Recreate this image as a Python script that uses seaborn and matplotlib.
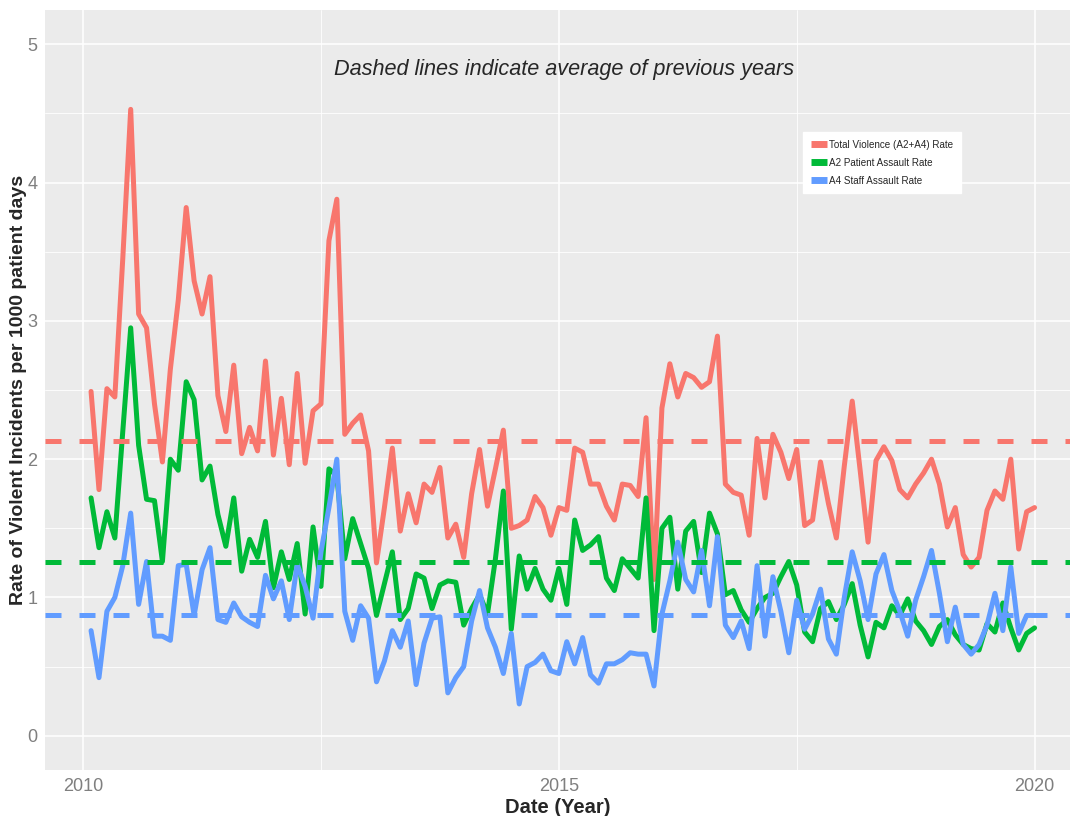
import numpy as np
import pandas as pd
import matplotlib
matplotlib.use('Agg')
import matplotlib.pyplot as plt
import seaborn as sns

# monthly rates, Feb 2010 .. Jan 2020 (per 1000 patient days)
total_rate = [2.49, 1.78, 2.51, 2.45, 3.45, 4.53, 3.05, 2.95, 2.40, 1.98,
              2.65, 3.15, 3.82, 3.29, 3.05, 3.32, 2.46, 2.20, 2.68, 2.04,
              2.23, 2.06, 2.71, 2.03, 2.44, 1.96, 2.62, 1.97, 2.35, 2.40,
              3.58, 3.88, 2.18, 2.26, 2.32, 2.06, 1.25, 1.65, 2.08, 1.48,
              1.75, 1.54, 1.82, 1.76, 1.94, 1.43, 1.53, 1.29, 1.75, 2.07,
              1.66, 1.93, 2.21, 1.50, 1.52, 1.56, 1.73, 1.65, 1.45, 1.65,
              1.63, 2.08, 2.05, 1.82, 1.82, 1.66, 1.56, 1.82, 1.81, 1.73,
              2.30, 1.13, 2.37, 2.69, 2.45, 2.62, 2.59, 2.52, 2.56, 2.89,
              1.82, 1.76, 1.74, 1.45, 2.15, 1.72, 2.18, 2.05, 1.86, 2.07,
              1.52, 1.56, 1.98, 1.68, 1.43, 1.95, 2.42, 1.92, 1.40, 1.99,
              2.09, 1.99, 1.78, 1.72, 1.82, 1.90, 2.00, 1.82, 1.51, 1.65,
              1.31, 1.22, 1.29, 1.63, 1.77, 1.71, 2.00, 1.35, 1.62, 1.65]
patient_rate = [1.72, 1.36, 1.62, 1.43, 2.20, 2.95, 2.10, 1.71, 1.70, 1.26,
                2.00, 1.92, 2.56, 2.43, 1.85, 1.95, 1.60, 1.37, 1.72, 1.19,
                1.42, 1.29, 1.55, 1.07, 1.33, 1.13, 1.39, 0.88, 1.51, 1.08,
                1.93, 1.88, 1.28, 1.57, 1.39, 1.21, 0.87, 1.10, 1.33, 0.84,
                0.92, 1.17, 1.14, 0.92, 1.09, 1.12, 1.11, 0.80, 0.92, 1.02,
                0.88, 1.28, 1.77, 0.77, 1.30, 1.06, 1.21, 1.06, 0.98, 1.21,
                0.95, 1.56, 1.34, 1.38, 1.44, 1.14, 1.05, 1.28, 1.21, 1.14,
                1.72, 0.76, 1.50, 1.58, 1.06, 1.48, 1.55, 1.18, 1.61, 1.46,
                1.02, 1.05, 0.91, 0.82, 0.92, 1.00, 1.03, 1.15, 1.26, 1.09,
                0.75, 0.68, 0.92, 0.97, 0.84, 0.95, 1.10, 0.80, 0.57, 0.82,
                0.78, 0.94, 0.87, 0.99, 0.83, 0.76, 0.66, 0.79, 0.84, 0.73,
                0.66, 0.63, 0.62, 0.81, 0.75, 0.96, 0.78, 0.62, 0.74, 0.78]
staff_rate = [0.76, 0.42, 0.90, 1.00, 1.23, 1.61, 0.95, 1.26, 0.72, 0.72,
              0.69, 1.23, 1.24, 0.87, 1.20, 1.36, 0.84, 0.82, 0.96, 0.86,
              0.82, 0.79, 1.16, 0.99, 1.12, 0.84, 1.24, 1.08, 0.85, 1.33,
              1.65, 2.00, 0.90, 0.69, 0.94, 0.85, 0.39, 0.54, 0.76, 0.64,
              0.83, 0.37, 0.67, 0.85, 0.86, 0.31, 0.42, 0.50, 0.83, 1.05,
              0.78, 0.64, 0.45, 0.74, 0.23, 0.50, 0.53, 0.59, 0.47, 0.45,
              0.68, 0.52, 0.71, 0.44, 0.38, 0.52, 0.52, 0.55, 0.60, 0.59,
              0.59, 0.36, 0.88, 1.12, 1.40, 1.13, 1.04, 1.34, 0.94, 1.44,
              0.80, 0.71, 0.83, 0.63, 1.23, 0.72, 1.15, 0.90, 0.60, 0.98,
              0.77, 0.88, 1.06, 0.70, 0.59, 1.00, 1.33, 1.12, 0.84, 1.17,
              1.31, 1.05, 0.90, 0.72, 0.98, 1.15, 1.34, 1.03, 0.68, 0.93,
              0.66, 0.59, 0.66, 0.80, 1.03, 0.76, 1.22, 0.74, 0.87, 0.87]
avg_rate = [2.13, 1.26, 0.87]   # average of previous years (dashed)

series_names = ['Total Violence (A2+A4) Rate', 'A2 Patient Assault Rate',
                'A4 Staff Assault Rate']
series_colors = ['#F8766D', '#00BA38', '#619CFF']

months = pd.date_range('2010-02-01', periods=len(total_rate), freq='MS')
year_frac = np.asarray(months.year + (months.month - 1) / 12.0)

df = pd.DataFrame({
    'date': np.tile(year_frac, 3),
    'rate': total_rate + patient_rate + staff_rate,
    'series': np.repeat(series_names, len(total_rate)),
})

# ggplot-ish look
sns.set_theme(style='darkgrid', rc={'axes.facecolor': '#EBEBEB',
                                     'grid.color': 'white'})
plt.rcParams['font.family'] = ['Liberation Sans', 'DejaVu Sans']

fig = plt.figure(figsize=(10.73, 8.16), dpi=100)
ax = fig.add_axes([0.042, 0.056, 0.955, 0.932])

sns.lineplot(data=df, x='date', y='rate', hue='series', hue_order=series_names,
             palette=dict(zip(series_names, series_colors)), linewidth=3.6,
             ax=ax)

for v, c in zip(avg_rate, series_colors):
    ax.axhline(v, color=c, lw=3.6, ls=(0, (3.2, 3.6)), zorder=3)

ax.set_xlim(2009.6, 2020.37)
ax.set_ylim(-0.25, 5.25)
ax.set_xticks([2010, 2015, 2020])
ax.set_xticks([2012.5, 2017.5], minor=True)
ax.set_yticks([0, 1, 2, 3, 4, 5])
ax.set_yticks([0.5, 1.5, 2.5, 3.5, 4.5], minor=True)
ax.set_xticklabels(['2010', '2015', '2020'])
ax.grid(which='major', color='white', lw=1.1)
ax.grid(which='minor', color='white', lw=0.6)
for s in ax.spines.values():
    s.set_visible(False)
ax.tick_params(axis='both', which='major', labelsize=13, labelcolor='#7F7F7F',
               length=2, color='#555555', width=1)
ax.tick_params(which='minor', length=0)

ax.set_xlabel('Date (Year)', fontsize=14.5, fontweight='bold', labelpad=2)
ax.set_ylabel('Rate of Violent Incidents per 1000 patient days', fontsize=14,
              fontweight='bold', labelpad=0)

ax.text(2015.05, 4.82, 'Dashed lines indicate average of previous years',
        ha='center', va='center', fontsize=15.6, style='italic')

handles, labels = ax.get_legend_handles_labels()
leg = ax.legend(handles, labels, loc='upper left', bbox_to_anchor=(0.735, 0.846),
                fontsize=7.1, frameon=True, facecolor='white', edgecolor='white',
                framealpha=1, fancybox=False, handlelength=1.6, handletextpad=0.25,
                labelspacing=0.8, borderpad=0.8)
for line in leg.get_lines():
    line.set_linewidth(5)
    line.set_solid_capstyle('butt')

fig.savefig('out.png', dpi=100)
